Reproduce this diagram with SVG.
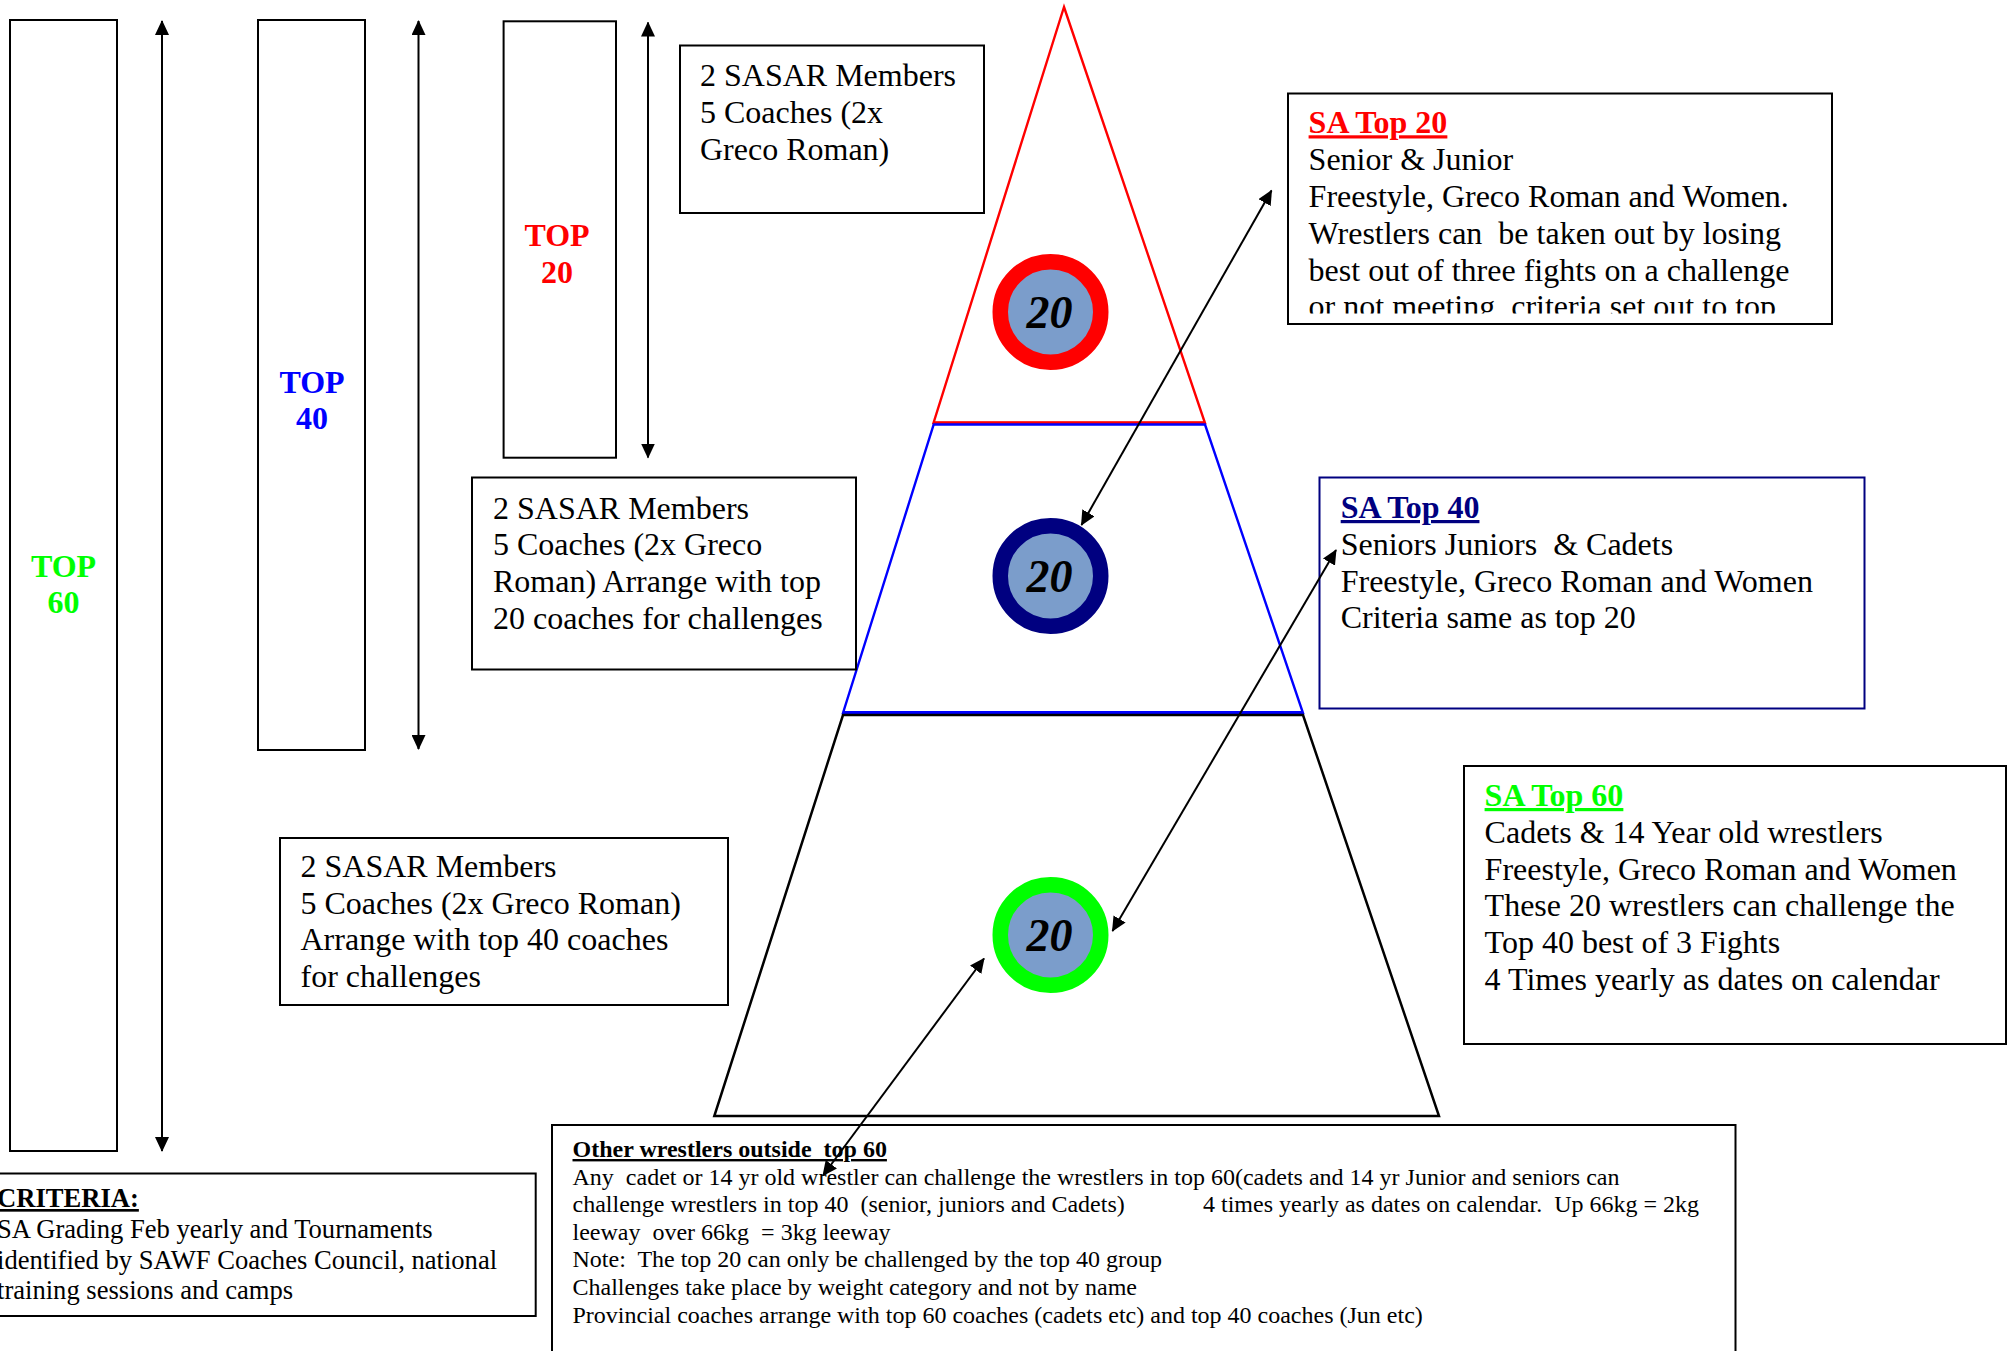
<svg xmlns="http://www.w3.org/2000/svg" width="2009" height="1351" viewBox="0 0 2009 1351">
<style>
text{font-family:"Liberation Serif","Times New Roman",serif;fill:#000}
.t32{font-size:32px}
.t26{font-size:26.6px}
.t24{font-size:24px}
.b{font-weight:bold}
.u{text-decoration:underline}
.lab{font-size:32px;font-weight:bold;text-anchor:middle}
.num{font-size:46px;font-weight:bold;font-style:italic;text-anchor:middle}
.box{fill:#fff;stroke:#000;stroke-width:2}
.col{fill:none;stroke:#000;stroke-width:2}
.conn{stroke:#000;stroke-width:2;fill:none;marker-start:url(#ah);marker-end:url(#ah)}
.disc{fill:#7B9DCB;stroke-width:15.5}
</style>
<defs>
<marker id="ah" viewBox="0 0 15 14" refX="14" refY="7" markerWidth="15" markerHeight="14" markerUnits="userSpaceOnUse" orient="auto-start-reverse"><path d="M0,0 L15,7 L0,14 z" fill="#000"/></marker>
<clipPath id="clip20"><rect x="1288" y="93" width="544" height="220.5"/></clipPath>
</defs>
<rect width="2009" height="1351" fill="#fff"/>

<g id="pyramid">
<polygon points="1064,7 1205,423 933.5,423" fill="none" stroke="#FF0000" stroke-width="2.4"/>
<line x1="933.5" y1="422.5" x2="1205" y2="422.5" stroke="#FF0000" stroke-width="2.5"/>
<polygon points="933.7,424.5 1205,424.5 1303,713 843,713" fill="none" stroke="#0000FF" stroke-width="2.4"/>
<line x1="843" y1="712.5" x2="1303" y2="712.5" stroke="#0000FF" stroke-width="3"/>
<polygon points="843,715 1303,715 1439,1116 714.3,1116" fill="none" stroke="#000" stroke-width="2.5"/>
</g>

<g id="col-top60">
<rect class="col" x="10" y="20" width="107" height="1131"/>
<text class="lab" x="63.5" y="576.5" style="fill:#00FF00">TOP</text>
<text class="lab" x="63.5" y="613" style="fill:#00FF00">60</text>
</g>
<g id="col-top40">
<rect class="col" x="258" y="20" width="107" height="730"/>
<text class="lab" x="312" y="392.5" style="fill:#0000FF">TOP</text>
<text class="lab" x="312" y="429" style="fill:#0000FF">40</text>
</g>
<g id="col-top20">
<rect class="col" x="503.6" y="21.3" width="112.4" height="436.4"/>
<text class="lab" x="557" y="246" style="fill:#FF0000">TOP</text>
<text class="lab" x="557" y="282.5" style="fill:#FF0000">20</text>
</g>

<g id="box-top20-panel">
<rect class="box" x="680" y="45.5" width="304" height="167.5"/>
<text class="t32" x="700" y="86">2 SASAR Members</text>
<text class="t32" x="700" y="122.8">5 Coaches (2x</text>
<text class="t32" x="700" y="159.6">Greco Roman)</text>
</g>
<g id="box-top40-panel">
<rect class="box" x="472" y="477.5" width="384" height="192"/>
<text class="t32" x="493" y="518.5">2 SASAR Members</text>
<text class="t32" x="493" y="555.3">5 Coaches (2x Greco</text>
<text class="t32" x="493" y="592.1">Roman) Arrange with top</text>
<text class="t32" x="493" y="628.9">20 coaches for challenges</text>
</g>
<g id="box-top60-panel">
<rect class="box" x="280" y="838" width="448" height="167"/>
<text class="t32" x="300.5" y="876.7">2 SASAR Members</text>
<text class="t32" x="300.5" y="913.5">5 Coaches (2x Greco Roman)</text>
<text class="t32" x="300.5" y="950.3">Arrange with top 40 coaches</text>
<text class="t32" x="300.5" y="987.1">for challenges</text>
</g>

<g id="circle-top20">
<circle class="disc" cx="1050.5" cy="312" r="50.25" stroke="#FF0000"/>
<text class="num" x="1049.5" y="327.5">20</text>
</g>
<g id="circle-top40">
<circle class="disc" cx="1050.5" cy="576" r="50.25" stroke="#000080"/>
<text class="num" x="1049.5" y="591.5">20</text>
</g>
<g id="circle-top60">
<circle class="disc" cx="1050.5" cy="935" r="50.25" stroke="#00FF00"/>
<text class="num" x="1049.5" y="950.5">20</text>
</g>

<g id="box-sa-top20">
<rect class="box" x="1288" y="93.5" width="544" height="230.5"/>
<g clip-path="url(#clip20)">
<text class="t32 b u" x="1308.6" y="133.3" style="fill:#FF0000">SA Top 20</text>
<text class="t32" x="1308.6" y="170.1">Senior &amp; Junior</text>
<text class="t32" x="1308.6" y="206.9">Freestyle, Greco Roman and Women.</text>
<text class="t32" x="1308.6" y="243.7" xml:space="preserve">Wrestlers can  be taken out by losing</text>
<text class="t32" x="1308.6" y="280.5">best out of three fights on a challenge</text>
<text class="t32" x="1308.6" y="317.3" xml:space="preserve">or not meeting  criteria set out to top</text>
</g>
</g>
<g id="box-sa-top40">
<rect x="1319.5" y="477.5" width="545" height="231" fill="#fff" stroke="#000080" stroke-width="2"/>
<text class="t32 b u" x="1340.7" y="518" style="fill:#000080">SA Top 40</text>
<text class="t32" x="1340.7" y="554.8" xml:space="preserve">Seniors Juniors  &amp; Cadets</text>
<text class="t32" x="1340.7" y="591.6">Freestyle, Greco Roman and Women</text>
<text class="t32" x="1340.7" y="628.4">Criteria same as top 20</text>
</g>
<g id="box-sa-top60">
<rect class="box" x="1464" y="766" width="542" height="278"/>
<text class="t32 b u" x="1484.6" y="806" style="fill:#00FF00">SA Top 60</text>
<text class="t32" x="1484.6" y="842.8">Cadets &amp; 14 Year old wrestlers</text>
<text class="t32" x="1484.6" y="879.6">Freestyle, Greco Roman and Women</text>
<text class="t32" x="1484.6" y="916.4">These 20 wrestlers can challenge the</text>
<text class="t32" x="1484.6" y="953.2">Top 40 best of 3 Fights</text>
<text class="t32" x="1484.6" y="990">4 Times yearly as dates on calendar</text>
</g>

<g id="box-criteria">
<rect class="box" x="-20" y="1173.5" width="555.7" height="142.5"/>
<text class="t26 b u" x="-3" y="1207">CRITERIA:</text>
<text class="t26" x="-3" y="1238">SA Grading Feb yearly and Tournaments</text>
<text class="t26" x="-3" y="1268.5">identified by SAWF Coaches Council, national</text>
<text class="t26" x="-3" y="1299">training sessions and camps</text>
</g>

<g id="box-other">
<rect class="box" x="552" y="1125" width="1183.5" height="260"/>
<text class="t24 b u" x="572.5" y="1157" xml:space="preserve">Other wrestlers outside  top 60</text>
<text class="t24" x="572.5" y="1184.6" xml:space="preserve">Any  cadet or 14 yr old wrestler can challenge the wrestlers in top 60(cadets and 14 yr Junior and seniors can</text>
<text class="t24" x="572.5" y="1212.2" xml:space="preserve">challenge wrestlers in top 40  (senior, juniors and Cadets)</text>
<text class="t24" x="1203" y="1212.2" xml:space="preserve">4 times yearly as dates on calendar.  Up 66kg = 2kg</text>
<text class="t24" x="572.5" y="1239.8" xml:space="preserve">leeway  over 66kg  = 3kg leeway</text>
<text class="t24" x="572.5" y="1267.4" xml:space="preserve">Note:  The top 20 can only be challenged by the top 40 group</text>
<text class="t24" x="572.5" y="1295">Challenges take place by weight category and not by name</text>
<text class="t24" x="572.5" y="1322.6">Provincial coaches arrange with top 60 coaches (cadets etc) and top 40 coaches (Jun etc)</text>
</g>

<g id="connectors">
<line class="conn" x1="162" y1="21" x2="162" y2="1151"/>
<line class="conn" x1="418.5" y1="21" x2="418.5" y2="749"/>
<line class="conn" x1="648" y1="22.5" x2="648" y2="457.5"/>
<line class="conn" x1="1271.5" y1="190.5" x2="1081.5" y2="525"/>
<line class="conn" x1="1336" y1="550" x2="1112.5" y2="931"/>
<line class="conn" x1="984" y1="958.5" x2="823" y2="1175.5"/>
</g>
</svg>
